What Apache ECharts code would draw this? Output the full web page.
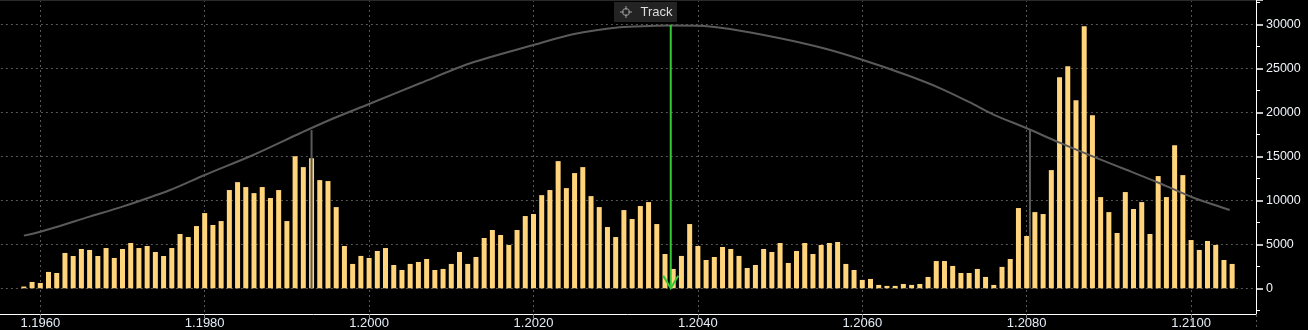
<!DOCTYPE html>
<html>
<head>
<meta charset="utf-8">
<script src="https://cdn.jsdelivr.net/npm/echarts@6/dist/echarts.min.js"></script>
<style>
html,body{margin:0;padding:0;background:#000;}
#chart{width:1308px;height:330px;}
</style>
</head>
<body>
<div id="chart"></div>
<script>
// Price levels (one bar per pip)
const prices = [
1.1958,1.1959,1.1960,1.1961,1.1962,1.1963,1.1964,1.1965,1.1966,1.1967,1.1968,1.1969,
1.1970,1.1971,1.1972,1.1973,1.1974,1.1975,1.1976,1.1977,1.1978,1.1979,
1.1980,1.1981,1.1982,1.1983,1.1984,1.1985,1.1986,1.1987,1.1988,1.1989,
1.1990,1.1991,1.1992,1.1993,1.1994,1.1995,1.1996,1.1997,1.1998,1.1999,
1.2000,1.2001,1.2002,1.2003,1.2004,1.2005,1.2006,1.2007,1.2008,1.2009,
1.2010,1.2011,1.2012,1.2013,1.2014,1.2015,1.2016,1.2017,1.2018,1.2019,
1.2020,1.2021,1.2022,1.2023,1.2024,1.2025,1.2026,1.2027,1.2028,1.2029,
1.2030,1.2031,1.2032,1.2033,1.2034,1.2035,1.2036,1.2037,1.2038,1.2039,
1.2040,1.2041,1.2042,1.2043,1.2044,1.2045,1.2046,1.2047,1.2048,1.2049,
1.2050,1.2051,1.2052,1.2053,1.2054,1.2055,1.2056,1.2057,1.2058,1.2059,
1.2060,1.2061,1.2062,1.2063,1.2064,1.2065,1.2066,1.2067,1.2068,1.2069,
1.2070,1.2071,1.2072,1.2073,1.2074,1.2075,1.2076,1.2077,1.2078,1.2079,
1.2080,1.2081,1.2082,1.2083,1.2084,1.2085,1.2086,1.2087,1.2088,1.2089,
1.2090,1.2091,1.2092,1.2093,1.2094,1.2095,1.2096,1.2097,1.2098,1.2099,
1.2100,1.2101,1.2102,1.2103,1.2104,1.2105
];
// Volume at each price
const volumes = [
200,720,600,1860,1740,4020,3670,4470,4360,3670,4580,3450,
4470,5150,4580,4810,4130,3670,4580,6180,5830,7080,
8560,7200,7650,11180,12080,11520,10830,11520,10270,11180,
7650,15040,13790,14810,12310,12200,9240,4810,2770,3680,
3450,4240,4580,2650,2080,2770,2990,3330,2080,2200,
2770,4130,2770,3560,5720,6630,6060,4930,6630,8220,
8450,10600,11180,14470,11400,13110,13790,10490,9240,6970,
5830,8900,7880,9360,9810,7310,3900,2200,3680,7310,
4810,3220,3560,4700,4470,3680,2310,2650,4470,4130,
5150,2880,4240,5150,3900,4930,5150,5270,2770,2080,
950,1060,380,270,270,490,380,490,1290,3100,
3100,2540,1740,1740,2200,1290,380,2430,3330,9130,
5950,8670,8450,13450,24020,25270,21400,29810,19700,10380,
8670,6290,10950,9020,9810,6180,12770,10380,16290,12880,
5490,4360,5380,4930,3220,2770
];
// Distribution curve
const curvePrices = [1.1958,1.1960,1.1966,1.1970,1.19758,1.1980,1.19859,1.19916,1.19952,1.2000,
1.20062,1.20123,1.2020,1.20248,1.20305,1.20342,1.20367,1.2040,1.20439,1.2050,1.20553,1.20598,
1.20654,1.20695,1.20731,1.20759,1.2080,1.2084,1.20881,1.20922,1.20962,1.2100,1.21047];
const curveValues = [5990,6440,8150,9290,11190,12890,15170,17640,19150,20970,
23330,25610,27690,28910,29700,29850,29900,29880,29510,28450,27310,26060,
24270,22760,21150,19800,18210,16570,14980,13460,11950,10420,8910];
// Band markers (gray verticals) and track level (green arrow)
const bandPrices = [1.19930, 1.20804];
const bandValues = [18000, 18130];
const trackPrice = 1.20367;
const trackTop = 29960;
// Axis ticks
const xMin = 1.1940, xMax = 1.21079, xStep = 0.002;
const yMin = -5000, yMax = 32810, yStep = 5000;

const chart = echarts.init(document.getElementById('chart'), null, {renderer:'canvas'});
const grid = {left:-124.1, top:0, width:1380.1, height:332.2, containLabel:false, outerBoundsMode:'none'};

function xLabel(v){
  const k = Math.round(v / xStep);
  if (Math.abs(v - k * xStep) > 1e-7) return '';
  return v.toFixed(4);
}
function yLabel(v){
  if (v < 0 || Math.round(v) % yStep !== 0) return '';
  return String(Math.round(v));
}

const option = {
  backgroundColor:'#000',
  animation:false,
  grid: grid,
  xAxis: {
    type:'value', min:xMin, max:xMax, interval:xStep, offset:-18.2,
    axisLine:{show:true, onZero:false, lineStyle:{color:'#ffffff', width:1}},
    axisTick:{show:true, length:4, lineStyle:{color:'#888'}},
    axisLabel:{color:'#e4ecf6', fontSize:13, fontFamily:'Liberation Sans, Arial, sans-serif', margin:3,
      formatter:xLabel, showMaxLabel:false},
    splitLine:{show:true, lineStyle:{color:'#575757', type:[2,3], width:1}}
  },
  yAxis: {
    type:'value', position:'right', min:yMin, max:yMax, interval:yStep,
    axisLine:{show:false},
    axisTick:{show:true, length:7, lineStyle:{color:'#ffffff', width:1.5}},
    minorTick:{show:true, splitNumber:2, length:4, lineStyle:{color:'#ffffff'}},
    axisLabel:{color:'#f0f4fa', fontSize:12.5, fontFamily:'Liberation Sans, Arial, sans-serif', margin:10,
      formatter:yLabel, showMaxLabel:false},
    splitLine:{show:true, lineStyle:{color:'#575757', type:[2,3], width:1}}
  },
  graphic:[
    {type:'line', z:100, shape:{x1:1256.5, y1:0, x2:1256.5, y2:314}, style:{stroke:'#ffffff', lineWidth:1}},
    {type:'line', z:100, shape:{x1:0, y1:0.5, x2:1256, y2:0.5}, style:{stroke:'#2a2a2a', lineWidth:1}},
    {type:'group', z:100, children:[
      {type:'rect', shape:{x:614, y:2, width:63, height:20}, style:{fill:'#232323'}},
      {type:'circle', shape:{cx:626, cy:12, r:3.5}, style:{fill:'none', stroke:'#9a9a9a', lineWidth:1}},
      {type:'line', shape:{x1:620, y1:12, x2:624, y2:12}, style:{stroke:'#9a9a9a', lineWidth:1}},
      {type:'line', shape:{x1:628, y1:12, x2:632, y2:12}, style:{stroke:'#9a9a9a', lineWidth:1}},
      {type:'line', shape:{x1:626, y1:6, x2:626, y2:10}, style:{stroke:'#9a9a9a', lineWidth:1}},
      {type:'line', shape:{x1:626, y1:14, x2:626, y2:18}, style:{stroke:'#9a9a9a', lineWidth:1}},
      {type:'text', style:{x:640.5, y:12, text:'Track', fill:'#dcdcdc', font:'13px Liberation Sans, Arial, sans-serif', verticalAlign:'middle'}}
    ]}
  ],
  series:[
    {
      type:'bar', barWidth:5, z:2,
      itemStyle:{color:'#ffd47a'},
      data: prices.map((p,i)=>[p, volumes[i]])
    },
    {
      type:'line', smooth:0.3, symbol:'none', z:3,
      lineStyle:{color:'#5a5a5a', width:2},
      data: curvePrices.map((p,i)=>[p, curveValues[i]])
    },
    {
      type:'custom', z:4,
      data: bandPrices.map((p,i)=>[p, bandValues[i]]),
      renderItem:(params, api)=>{
        const top = api.coord([api.value(0), api.value(1)]);
        const bot = api.coord([api.value(0), 0]);
        return {type:'line', shape:{x1:top[0], y1:top[1], x2:bot[0], y2:bot[1]},
          style:{stroke:'#5a5a5a', lineWidth:2}};
      }
    },
    {
      type:'custom', z:5,
      data: [[trackPrice, trackTop]],
      renderItem:(params, api)=>{
        const top = api.coord([api.value(0), api.value(1)]);
        const bot = api.coord([api.value(0), 0]);
        return {type:'group', children:[
          {type:'line', shape:{x1:top[0], y1:top[1], x2:bot[0], y2:bot[1]},
            style:{stroke:'#34c834', lineWidth:2}},
          {type:'polyline', shape:{points:[[bot[0]-7.5, bot[1]-12.5],[bot[0], bot[1]],[bot[0]+7.5, bot[1]-12.5]]},
            style:{stroke:'#34c834', lineWidth:2, fill:'none'}}
        ]};
      }
    }
  ]
};
chart.setOption(option);
</script>
</body>
</html>
